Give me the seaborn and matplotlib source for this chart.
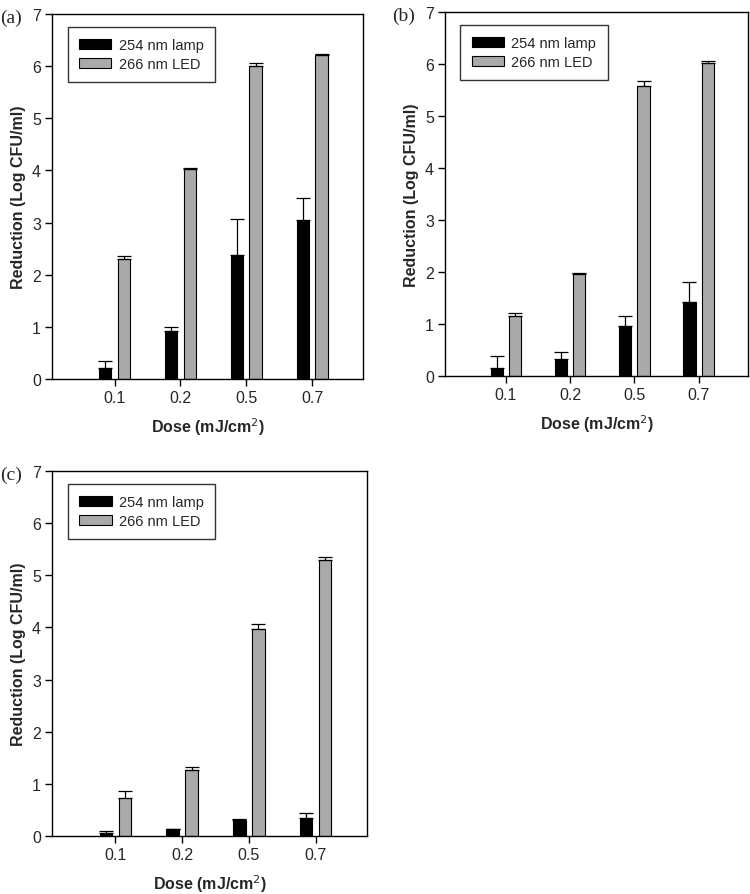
import matplotlib
matplotlib.use("Agg")
import matplotlib.pyplot as plt
import seaborn as sns
import pandas as pd
import numpy as np

doses = ["0.1", "0.2", "0.5", "0.7"]
sources = ["254 nm lamp", "266 nm LED"]

a_lamp = [0.22, 0.93, 2.38, 3.05]
a_lamp_err = [0.13, 0.06, 0.68, 0.42]
a_led = [2.30, 4.03, 6.00, 6.22]
a_led_err = [0.05, 0.02, 0.06, 0.01]

b_lamp = [0.16, 0.32, 0.97, 1.42]
b_lamp_err = [0.22, 0.14, 0.18, 0.38]
b_led = [1.15, 1.96, 5.58, 6.02]
b_led_err = [0.07, 0.03, 0.09, 0.03]

c_lamp = [0.06, 0.14, 0.30, 0.35]
c_lamp_err = [0.04, 0.00, 0.03, 0.09]
c_led = [0.73, 1.26, 3.97, 5.30]
c_led_err = [0.13, 0.06, 0.10, 0.06]

panels = [
    ("(a)", a_lamp, a_lamp_err, a_led, a_led_err, [52, 15, 363, 380], 0),
    ("(b)", b_lamp, b_lamp_err, b_led, b_led_err, [445, 13, 748, 377], 392),
    ("(c)", c_lamp, c_lamp_err, c_led, c_led_err, [52, 472, 367, 837], 0),
]

sns.set_style("white")
plt.rcParams["font.family"] = ["Liberation Sans", "DejaVu Sans"]

W, H = 750, 895
fig = plt.figure(figsize=(7.5, 8.95), dpi=100)

palette = {sources[0]: "#000000", sources[1]: "#aaaaaa"}

for label, lamp, lamp_err, led, led_err, (x0, y0, x1, y1), lx in panels:
    ax = fig.add_axes([x0 / W, 1 - y1 / H, (x1 - x0) / W, (y1 - y0) / H])
    df = pd.DataFrame({
        "Dose": doses * 2,
        "Source": [sources[0]] * 4 + [sources[1]] * 4,
        "Reduction": lamp + led,
    })
    sns.barplot(data=df, x="Dose", y="Reduction", hue="Source", order=doses,
                hue_order=sources, palette=palette, width=0.57, gap=0.33,
                errorbar=None, edgecolor="black", linewidth=0.8, ax=ax,
                saturation=1)
    errs = lamp_err + led_err
    vals = lamp + led
    bars = [p for p in ax.patches][:8]
    xs = [b.get_x() + b.get_width() / 2 for b in bars]
    ax.errorbar(xs, vals, yerr=[np.zeros(8), errs], fmt="none",
                ecolor="black", elinewidth=0.9, capsize=5, capthick=0.9)
    ax.set_ylim(0, 7)
    ax.set_xlim(-0.95, 3.77)
    ax.set_yticks(range(8))
    for s in ax.spines.values():
        s.set_color("black")
        s.set_linewidth(1.0)
    ax.tick_params(axis="both", direction="out", length=5, width=1,
                   color="black", labelsize=11.5, left=True, bottom=True,
                   pad=3)
    ax.set_ylabel("Reduction (Log CFU/ml)", fontsize=11.5, fontweight="bold",
                  labelpad=4)
    ax.set_xlabel("Dose (mJ/cm$^2$)", fontsize=11.5, fontweight="bold",
                  labelpad=7)
    leg = ax.legend(loc="upper left", bbox_to_anchor=(0.05, 0.965),
                    fontsize=10.5, frameon=True, fancybox=False,
                    edgecolor="black", handlelength=2.2, handleheight=0.7,
                    borderpad=0.8, labelspacing=0.3, handletextpad=0.5,
                    borderaxespad=0)
    leg.get_frame().set_linewidth(1.0)
    leg.set_title(None)
    fig.text(lx / W, 1 - (y0 + 3) / H, label, fontsize=14,
             family=["Liberation Serif"], ha="left", va="center")

fig.savefig("out.png", dpi=100)
